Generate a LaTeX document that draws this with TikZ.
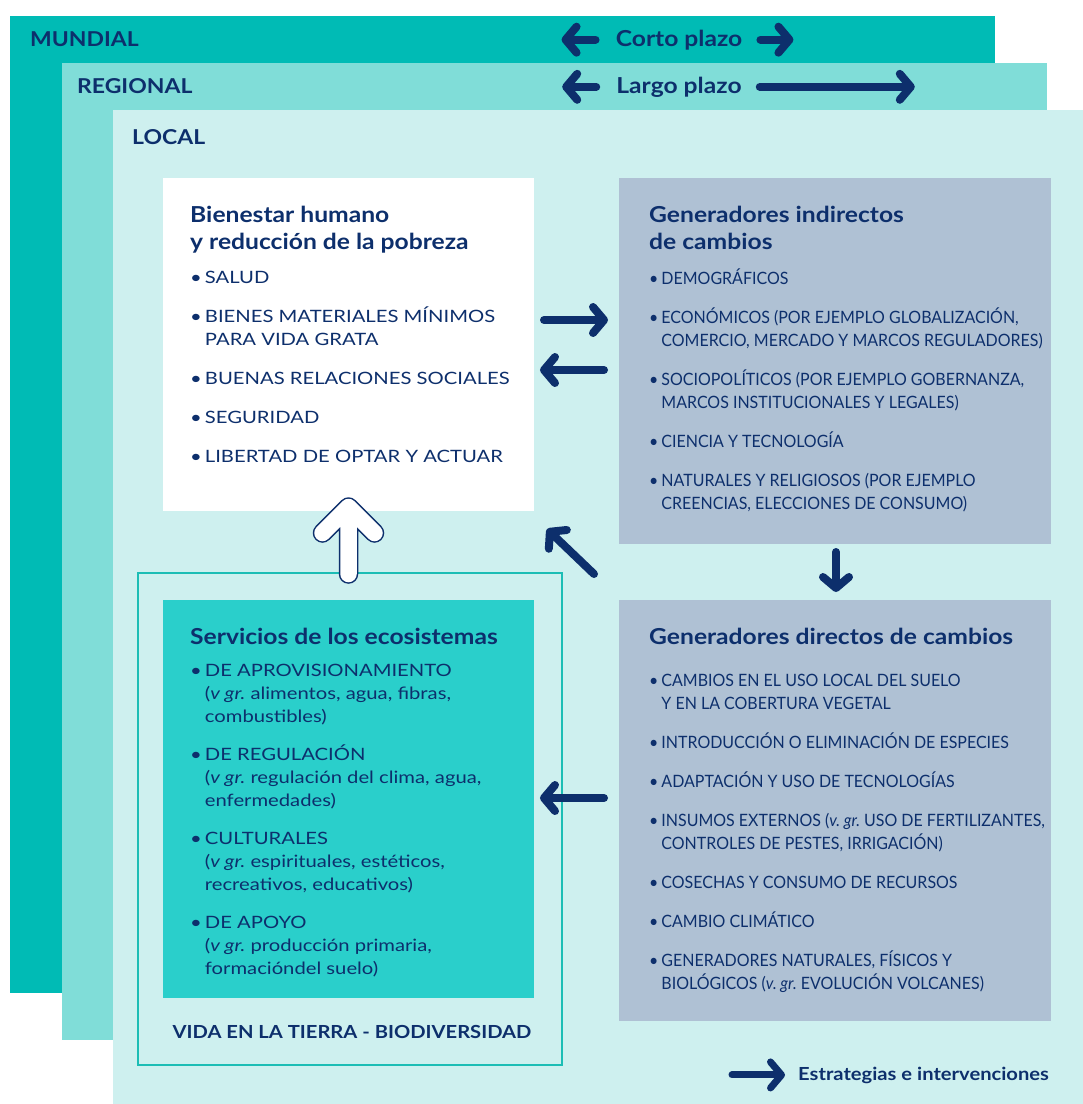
\documentclass[tikz,border=0pt]{standalone}
\usepackage{fontspec}
\setmainfont{Lato}
\newfontfamily\ancha[FakeStretch=1.12]{Lato}
\newfontfamily\abierta[FakeStretch=1.19]{Lato}
\newfontfamily\estrecha[FakeStretch=0.94]{Lato}
\usetikzlibrary{arrows.meta,calc,positioning}

\definecolor{mundial}{RGB}{0,187,181}
\definecolor{regional}{RGB}{128,221,216}
\definecolor{local}{RGB}{206,240,239}
\definecolor{gris}{RGB}{175,193,212}
\definecolor{turq}{RGB}{42,207,203}
\definecolor{borde}{RGB}{28,189,181}
\definecolor{navy}{RGB}{13,47,108}

\newcommand{\bul}{\textbullet}

\tikzset{
  caja/.style={anchor=north west, inner sep=0pt, outer sep=0pt},
  capa/.style={anchor=base west, inner sep=0pt, text=navy, font=\ancha\bfseries\fontsize{20.5}{24}\selectfont},
  titulo/.style={anchor=base west, inner sep=0pt, text=navy, font=\ancha\bfseries\fontsize{22}{27}\selectfont},
  lista/.style={anchor=base west, inner sep=0pt, text=navy, font=\abierta\fontsize{17}{23}\selectfont},
  flecha/.style={draw=navy, line width=8pt, line cap=round,
    -{Straight Barb[length=11pt,width=26pt,round]}},
}

\begin{document}
\frenchspacing
\begin{tikzpicture}[x=1pt,y=-1pt]
\useasboundingbox (0,0) rectangle (1083,1104);

% capas
\node[caja, fill=mundial, minimum width=985pt, minimum height=977pt] (mund) at (10,16) {};
\node[caja, fill=regional, minimum width=985pt, minimum height=977pt] (reg) at (62,63) {};
\node[caja, fill=local, minimum width=970pt, minimum height=994pt] (loc) at (113,110) {};

\node[capa] (mundT) at ($(mund.north west)+(20,30)$) {MUNDIAL};
\node[capa] (regT) at ($(reg.north west)+(15,30)$) {REGIONAL};
\node[capa] (locT) at ($(loc.north west)+(19,34)$) {LOCAL};

% plazos
\node[titulo, anchor=base] (corto) at (679,46) {Corto plazo};
\node[titulo, anchor=base] (largo) at (679,93) {Largo plazo};
\draw[flecha] ($(corto.west)+(-20,0)$) -- ($(corto.west)+(-54,0)$);
\draw[flecha] ($(corto.east)+(18,0)$) -- ($(corto.east)+(51,0)$);
\draw[flecha] ($(largo.west)+(-20,0)$) -- ($(largo.west)+(-54,0)$);
\draw[flecha] ($(largo.east)+(18,0)$) -- ($(largo.east)+(173,0)$);

% cajas
\node[caja, fill=white, minimum width=371pt, minimum height=333pt] (bien) at (163,178) {};
\node[caja, fill=gris, minimum width=432pt, minimum height=366pt] (indir) at (619,178) {};
\node[caja, fill=gris, minimum width=432pt, minimum height=421pt] (dir) at (619,600) {};
\node[caja, draw=borde, line width=2.5pt, minimum width=424pt, minimum height=492pt] (marco) at (138,573) {};
\node[caja, fill=turq, minimum width=371pt, minimum height=398pt] (serv) at (163,600) {};

% Bienestar humano
\node[titulo] (bienT) at ($(bien.north west)+(27,44)$)
  {\begin{tabular}[t]{@{}l@{}}Bienestar humano\\ y reducción de la pobreza\end{tabular}};
\node[lista] (bienL) at ($(bien.north west)+(27,105)$)
  {\begin{tabular}[t]{@{}l@{\hspace{3pt}}l@{}}
   \bul & SALUD\\[16pt]
   \bul & BIENES MATERIALES MÍNIMOS\\
        & PARA VIDA GRATA\\[16pt]
   \bul & BUENAS RELACIONES SOCIALES\\[16pt]
   \bul & SEGURIDAD\\[16pt]
   \bul & LIBERTAD DE OPTAR Y ACTUAR
   \end{tabular}};

% Generadores indirectos
\node[titulo] (indirT) at ($(indir.north west)+(30,44)$)
  {\begin{tabular}[t]{@{}l@{}}Generadores indirectos\\ de cambios\end{tabular}};
\node[lista, font=\estrecha\fontsize{17}{23}\selectfont] (indirL) at ($(indir.north west)+(30,106)$)
  {\begin{tabular}[t]{@{}l@{\hspace{3pt}}l@{}}
   \bul & DEMOGRÁFICOS\\[16pt]
   \bul & ECONÓMICOS (POR EJEMPLO GLOBALIZACIÓN,\\
        & COMERCIO, MERCADO Y MARCOS REGULADORES)\\[16pt]
   \bul & SOCIOPOLÍTICOS (POR EJEMPLO GOBERNANZA,\\
        & MARCOS INSTITUCIONALES Y LEGALES)\\[16pt]
   \bul & CIENCIA Y TECNOLOGÍA\\[16pt]
   \bul & NATURALES Y RELIGIOSOS (POR EJEMPLO\\
        & CREENCIAS, ELECCIONES DE CONSUMO)
   \end{tabular}};

% Generadores directos
\node[titulo] (dirT) at ($(dir.north west)+(30,44)$) {Generadores directos de cambios};
\node[lista, font=\estrecha\fontsize{17}{23}\selectfont] (dirL) at ($(dir.north west)+(30,86)$)
  {\begin{tabular}[t]{@{}l@{\hspace{3pt}}l@{}}
   \bul & CAMBIOS EN EL USO LOCAL DEL SUELO\\
        & Y EN LA COBERTURA VEGETAL\\[16pt]
   \bul & INTRODUCCIÓN O ELIMINACIÓN DE ESPECIES\\[16pt]
   \bul & ADAPTACIÓN Y USO DE TECNOLOGÍAS\\[16pt]
   \bul & INSUMOS EXTERNOS (\textit{v. gr.} USO DE FERTILIZANTES,\\
        & CONTROLES DE PESTES, IRRIGACIÓN)\\[16pt]
   \bul & COSECHAS Y CONSUMO DE RECURSOS\\[16pt]
   \bul & CAMBIO CLIMÁTICO\\[16pt]
   \bul & GENERADORES NATURALES, FÍSICOS Y\\
        & BIOLÓGICOS (\textit{v. gr.} EVOLUCIÓN VOLCANES)
   \end{tabular}};

% Servicios de los ecosistemas
\node[titulo] (servT) at ($(serv.north west)+(27,44)$) {Servicios de los ecosistemas};
\node[lista] (servL) at ($(serv.north west)+(27,76)$)
  {\begin{tabular}[t]{@{}l@{\hspace{3pt}}l@{}}
   \bul & DE APROVISIONAMIENTO\\
        & (\textit{v gr.} alimentos, agua, fibras,\\
        & combustibles)\\[15pt]
   \bul & DE REGULACIÓN\\
        & (\textit{v gr.} regulación del clima, agua,\\
        & enfermedades)\\[15pt]
   \bul & CULTURALES\\
        & (\textit{v gr.} espirituales, estéticos,\\
        & recreativos, educativos)\\[15pt]
   \bul & DE APOYO\\
        & (\textit{v gr.} producción primaria,\\
        & formacióndel suelo)
   \end{tabular}};

\node[titulo, anchor=base, font=\ancha\bfseries\fontsize{18}{22}\selectfont] (vida) at ($(marco.south)+(2,-27)$)
  {VIDA EN LA TIERRA - BIODIVERSIDAD};

% flechas entre cajas
\draw[flecha] ($(bien.north east)+(10,142)$) -- ($(indir.north west)+(-11,142)$);
\draw[flecha] ($(indir.north west)+(-15,192)$) -- ($(bien.north east)+(6,192)$);
\draw[flecha] ($(indir.south)+(1,8)$) -- ($(dir.north)+(1,-8)$);
\draw[flecha] ($(dir.north west)+(-25,-26)$) -- ($(bien.south east)+(13,18)$);
\draw[flecha] ($(dir.north west)+(-15,198)$) -- ($(serv.north east)+(6,198)$);

% flecha hueca
\foreach \c/\w in {navy/19.5pt, white/16.5pt}
  \draw[\c, line width=\w, line cap=round, line join=round]
    ($(bien.south)+(0,63)$) -- ($(bien.south)+(0,-4)$)
    ($(bien.south)+(-26,22)$) -- ($(bien.south)+(0,-4)$) -- ($(bien.south)+(26,22)$);

% leyenda
\node[titulo, anchor=base west, font=\ancha\bfseries\fontsize{18}{22}\selectfont] (leyenda) at (798,1080)
  {Estrategias e intervenciones};
\draw[flecha, line width=7pt] ($(leyenda.west)+(-66,0)$) -- ($(leyenda.west)+(-13,0)$);
\end{tikzpicture}
\end{document}
